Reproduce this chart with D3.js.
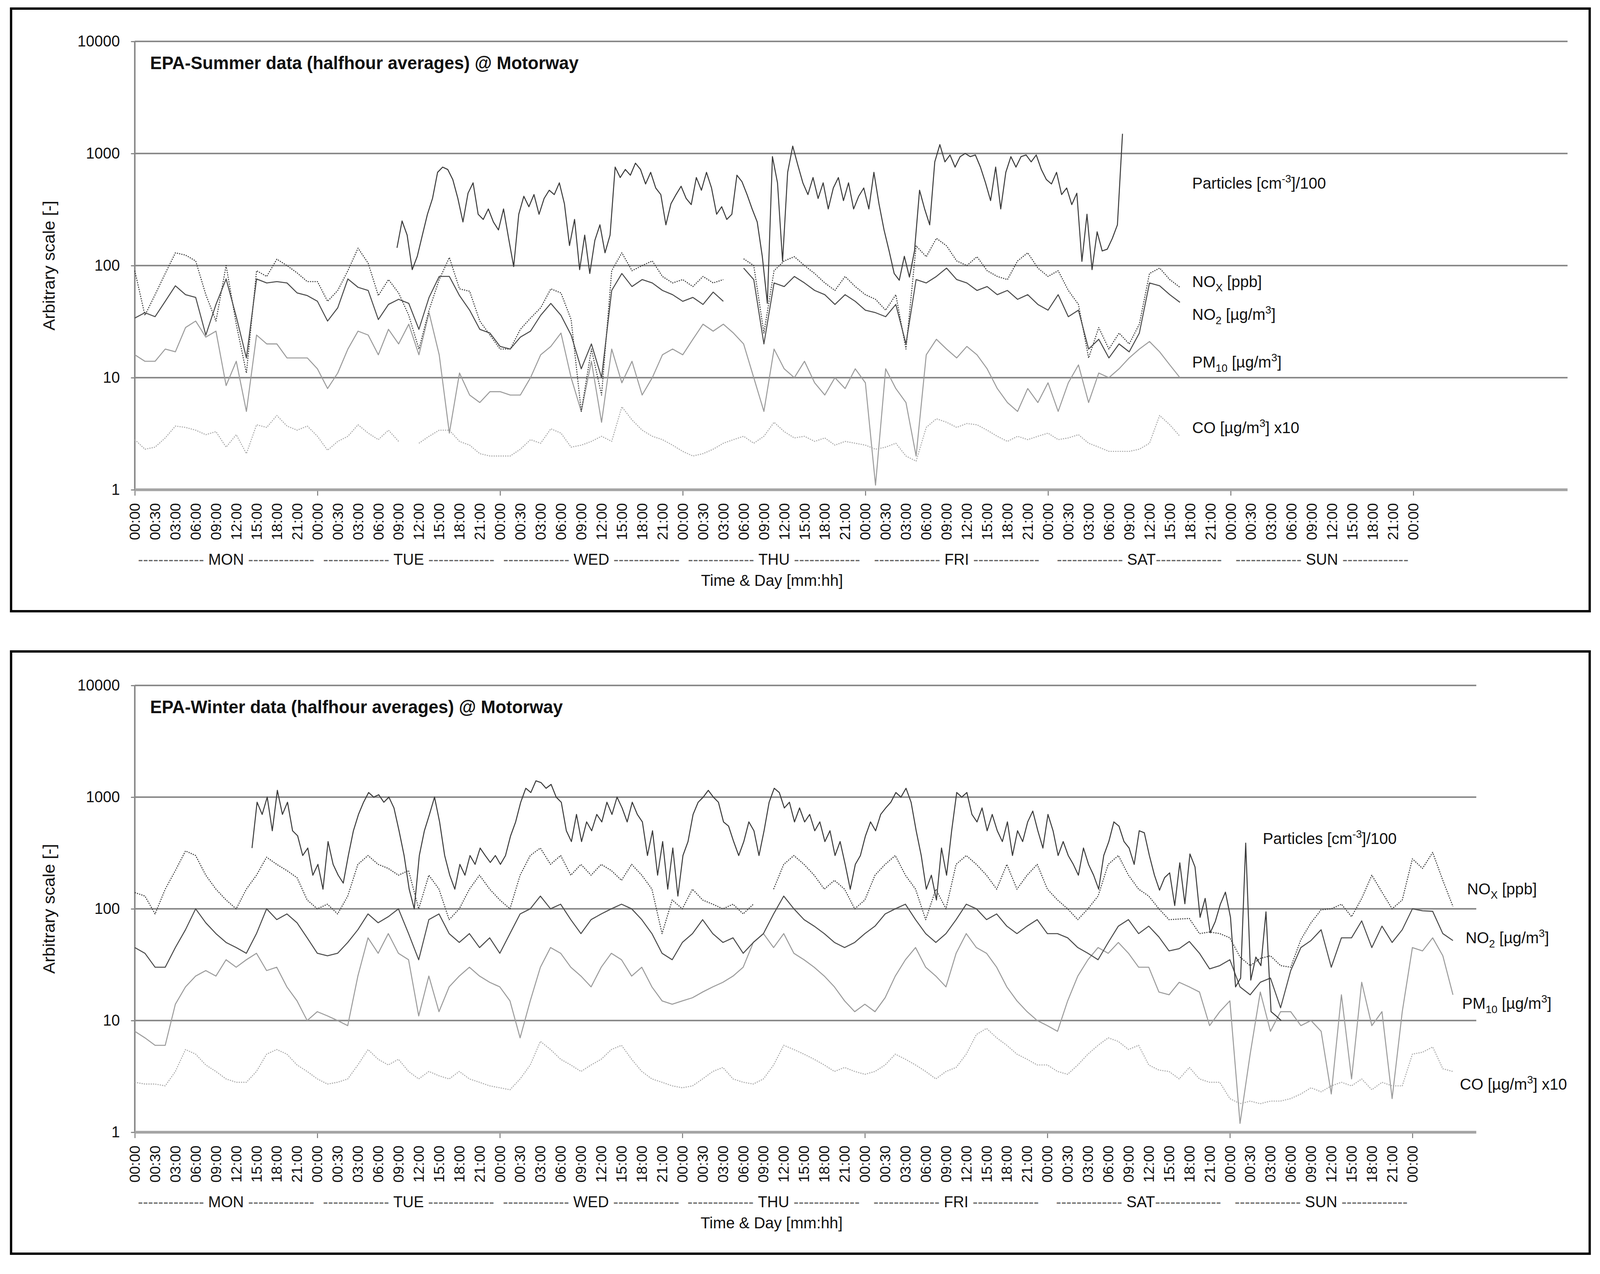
<!DOCTYPE html>
<html>
<head>
<meta charset="utf-8">
<script src="https://cdn.jsdelivr.net/npm/d3@7"></script>
<style>
html, body { margin:0; padding:0; background:#fff; width:100%; height:100%; overflow:hidden; }
#chart { display:block; width:100vw; height:100vh; }
svg text { font-family:"Liberation Sans", Arial, sans-serif; fill:#111; }
</style>
</head>
<body>
<svg id="chart" viewBox="0 0 4190 3262" preserveAspectRatio="none"></svg>
<script>
// x positions are in axis "slots": one slot = one time label on the category axis
var hourLabels = ["00:00","00:30","03:00","06:00","09:00","12:00","15:00","18:00","21:00"];
var dayNames = ["MON","TUE","WED","THU","FRI","SAT","SUN"];
var yTicks = [1, 10, 100, 1000, 10000];
var sumAxisSlots = 70.6, winAxisSlots = 66.15;
var halfStep = 0.5, quarterStep = 0.25;
var sumParticlesStart = 12.92, winParticlesStart = 5.78;

// summer, half-slot steps from MON 00:00
var sumNOx = [90,36,55,85,130,124,110,55,32,100,30,11,90,80,114,100,86,72,72,48,60,90,143,105,54,75,57,36,18,40,75,118,62,59,32,24,18,18,27,34,42,62,57,33,
  5,18,7,90,130,90,100,110,80,70,75,65,80,70,75,null,115,100,25,90,110,120,100,85,70,60,80,65,55,50,40,55,18,150,120,175,150,110,100,120,90,80,75,110,130,95,80,90,60,45,15,28,18,25,20,30,85,95,75,64];
var sumNO2 = [34,38,35,48,66,55,52,24,45,76,35,15,76,70,72,70,57,54,48,32,42,76,64,60,33,45,50,46,27,52,80,80,54,40,27,25,19,18,23,26,36,46,36,24,
  12,20,10,60,85,65,75,70,60,55,48,52,45,58,48,null,95,75,20,70,65,80,70,60,55,45,55,48,40,38,35,45,20,75,70,80,95,75,70,60,65,55,60,50,55,45,40,55,35,40,18,22,15,20,17,25,70,66,55,47];
var sumPM10 = [16,14,14,18,17,28,32,23,26,8.5,14,5,24,20,20,15,15,15,12,8,11,18,26,24,16,27,20,30,16,38,16,3.2,11,7,6,7.5,7.5,7,7,10,16,19,25,10,
  5,14,4,18,9,14,7,10,16,18,16,22,30,26,30,25,20,10,5,18,12,10,14,9,7,10,8,12,9,1.1,12,8,6,2,16,22,18,15,19,16,12,8,6,5,8,6,9,5,9,13,6,11,10,12,15,18,21,17,13,10];
var sumCO = [2.8,2.3,2.4,2.9,3.7,3.6,3.4,3.1,3.3,2.4,3.1,2.1,3.8,3.6,4.6,3.7,3.4,3.7,3.0,2.25,2.7,3.0,3.8,3.2,2.8,3.4,2.7,null,2.6,3.0,3.4,3.4,2.7,2.5,2.1,2.0,2.0,2.0,2.3,2.8,2.6,3.5,3.2,2.4,
  2.5,2.7,3.0,2.7,5.5,4.2,3.4,3.0,2.8,2.5,2.2,2.0,2.1,2.3,2.6,2.8,3.0,2.6,3.0,4.0,3.3,2.9,3.0,2.7,2.9,2.5,2.7,2.6,2.5,2.3,2.4,2.6,2.0,1.8,3.6,4.3,4.0,3.6,3.9,3.8,3.4,3.0,2.7,3.0,2.8,3.0,3.2,2.8,2.9,3.1,2.6,2.4,2.2,2.2,2.2,2.3,2.6,4.6,3.8,3.0];
// summer particles, quarter-slot steps from TUE 09:00
var sumParticles = [144,250,187,92,121,187,287,397,679,756,720,585,397,245,442,547,287,258,320,245,
  208,320,175,98,287,415,335,430,287,397,470,430,547,356,151,258,92,187,85,168,
  231,130,187,756,610,720,640,820,720,535,679,492,430,231,356,430,510,397,350,610,
  470,679,492,287,335,258,287,640,560,430,320,245,121,46,937,547,109,679,1163,790,
  547,430,610,397,547,320,492,610,380,547,320,415,492,320,679,356,208,135,85,74,
  121,79,135,470,320,231,842,1200,842,970,756,937,1000,937,970,756,547,380,756,320,
  679,937,756,937,970,842,970,720,585,535,679,430,492,350,442,109,287,92,200,135,
  140,175,231,1500];

// winter, half-slot steps from MON 00:00
var winNOx = [140,130,90,150,220,330,300,200,150,120,100,150,200,290,250,220,190,120,100,110,
  90,130,250,300,250,230,200,220,100,200,150,80,100,150,200,150,120,100,200,300,
  350,250,300,200,250,200,250,220,180,250,200,150,60,120,100,150,120,110,100,110,
  90,110,null,150,250,300,250,200,150,180,150,100,120,200,250,300,200,150,80,150,
  100,250,300,250,200,150,250,150,200,250,150,120,100,80,100,130,250,300,200,150,
  130,100,80,81,82,60,62,60,55,37,31,36,38,31,30,53,75,98,100,110,
  85,124,200,141,100,120,280,230,320,180,105];
var winNO2 = [45,40,30,30,45,65,100,75,60,50,45,40,60,100,80,90,75,55,40,38,
  40,50,65,90,75,85,100,60,35,80,90,60,50,60,45,55,40,60,90,100,
  130,100,110,80,60,80,90,100,110,100,80,60,40,35,50,60,80,60,50,55,
  40,50,60,90,130,100,80,70,60,50,45,50,60,70,90,100,110,80,60,50,
  60,80,110,100,80,90,70,60,70,80,60,60,55,45,40,35,50,70,80,60,
  70,56,42,44,51,40,29,31,35,20,17,22,24,13,28,45,52,65,30,55,
  55,78,45,70,50,65,100,96,95,60,52];
var winPM10 = [8,7,6,6,14,20,25,28,25,35,30,35,40,28,30,20,15,10,12,11,
  10,9,25,55,40,60,40,35,11,25,12,20,25,30,25,22,20,15,7,15,
  30,45,40,30,25,20,30,40,35,25,30,20,15,14,15,16,18,20,22,25,
  30,50,60,45,60,40,35,30,25,20,15,12,14,12,16,25,35,45,30,25,
  20,40,60,45,40,30,20,15,12,10,9,8,15,25,35,45,40,50,40,30,
  30,18,17,22,20,18,9,12,15,1.2,5,18,8,12,12,9,10,8,2.2,17,
  3,22,9,12,2.0,12,45,42,55,38,17];
var winCO = [2.8,2.7,2.7,2.6,3.5,5.5,5.0,4.0,3.5,3.0,2.8,2.8,3.5,5.0,5.5,5.0,4.0,3.5,3.0,2.7,
  2.8,3.0,4.0,5.5,4.5,4.0,4.5,3.5,3.0,3.5,3.2,3.0,3.5,3.0,2.8,2.6,2.5,2.4,3.0,4.0,
  6.5,5.5,4.5,4.0,3.5,4.0,4.5,5.5,6.0,4.5,3.5,3.0,2.8,2.6,2.5,2.6,3.0,3.5,3.8,3.0,
  2.8,2.7,3.0,4.0,6.0,5.5,5.0,4.5,4.0,3.5,3.8,3.5,3.3,3.5,4.0,5.0,4.5,4.0,3.5,3.0,
  3.5,3.8,5.0,7.5,8.5,7.0,6.0,5.0,4.5,4.0,4.0,3.5,3.3,4.0,5.0,6.0,7.0,6.5,5.5,6.0,
  4.0,3.6,3.5,3.0,3.8,3.0,2.8,2.8,2.0,1.8,1.9,1.8,1.9,1.9,2.0,2.2,2.5,2.3,2.6,2.8,
  2.6,3.0,2.4,2.8,2.6,2.6,5.0,5.2,5.8,3.7,3.5];
// winter particles, quarter-slot steps from MON ~13:00
var winParticles = [350,900,700,1000,500,1150,700,900,500,450,300,350,200,250,150,400,250,200,170,300,
  500,700,900,1100,1000,1050,900,1000,800,500,300,150,100,300,500,700,1000,600,300,200,
  150,250,200,300,250,350,300,260,300,250,300,450,600,900,1200,1100,1400,1350,1200,1300,
  1000,900,500,400,700,400,600,500,700,600,900,700,1000,800,600,900,700,600,300,500,
  200,400,150,350,130,300,400,700,900,1000,1150,1000,900,600,550,400,300,400,600,500,
  300,500,900,1200,1100,800,900,600,800,600,700,500,600,400,500,300,400,250,150,250,
  300,450,600,500,700,800,900,1100,1000,1200,900,500,300,150,200,120,350,200,500,1100,
  1000,1100,700,600,800,500,700,500,400,600,300,500,400,600,750,500,350,700,500,300,
  400,300,250,200,350,250,200,150,300,400,600,550,400,350,250,
  500,480,300,200,147,190,210,107,258,111,310,237,84,124,61,77,110,141,84,20,24,387,23,37,31,94,12,11,10];

var timeLabels = dayNames.flatMap(function () { return hourLabels; }).concat(["00:00"]);

var styles = {
  particles: { color:"#3a3a3a", dash:null },
  nox: { color:"#3a3a3a", dash:"3,3" },
  no2: { color:"#4a4a4a", dash:null },
  pm10: { color:"#9a9a9a", dash:null },
  co: { color:"#a8a8a8", dash:"3,3" }
};

var seriesLabels = {
  particles: [["Particles [cm",""],["-3","sup"],["]/100",""]],
  nox: [["NO",""],["X","sub"],[" [ppb]",""]],
  no2: [["NO",""],["2","sub"],[" [\u00b5g/m",""],["3","sup"],["]",""]],
  pm10: [["PM",""],["10","sub"],[" [\u00b5g/m",""],["3","sup"],["]",""]],
  co: [["CO [\u00b5g/m",""],["3","sup"],["] x10",""]]
};

var panels = [
  { title:"EPA-Summer data (halfhour averages) @ Motorway", boxTop:22, boxBottom:1565,
    top:106, bottom:1254, right:4105, slots:sumAxisSlots,
    series:[
      { key:"co", start:0, step:halfStep, values:sumCO },
      { key:"pm10", start:0, step:halfStep, values:sumPM10 },
      { key:"nox", start:0, step:halfStep, values:sumNOx },
      { key:"no2", start:0, step:halfStep, values:sumNO2 },
      { key:"particles", start:sumParticlesStart, step:quarterStep, values:sumParticles }
    ],
    labelPos:{ particles:[3122,483], nox:[3122,735], no2:[3122,819], pm10:[3122,941], co:[3122,1109] } },
  { title:"EPA-Winter data (halfhour averages) @ Motorway", boxTop:1668, boxBottom:3210,
    top:1755, bottom:2899, right:3866, slots:winAxisSlots,
    series:[
      { key:"co", start:0, step:halfStep, values:winCO },
      { key:"pm10", start:0, step:halfStep, values:winPM10 },
      { key:"nox", start:0, step:halfStep, values:winNOx },
      { key:"no2", start:0, step:halfStep, values:winNO2 },
      { key:"particles", start:winParticlesStart, step:quarterStep, values:winParticles }
    ],
    labelPos:{ particles:[3307,2161], nox:[3842,2290], no2:[3838,2415], pm10:[3829,2583], co:[3823,2790] } }
];

var svg = d3.select("#chart");
var left = 353, boxLeft = 29, boxRight = 4163;

function richText(g, x, y, parts, size) {
  var t = g.append("text").attr("x", x).attr("y", y).attr("font-size", size);
  var shift = 0;
  parts.forEach(function (p) {
    var target = p[1] === "sub" ? size * 0.28 : p[1] === "sup" ? -size * 0.38 : 0;
    t.append("tspan").attr("dy", target - shift)
      .attr("font-size", p[1] ? size * 0.68 : size).text(p[0]);
    shift = target;
  });
}

panels.forEach(function (p) {
  var g = svg.append("g");
  var x = d3.scaleLinear().domain([0, p.slots]).range([left, p.right]);
  var y = d3.scaleLog().domain([1, 10000]).range([p.bottom, p.top]);

  g.append("rect").attr("x", boxLeft).attr("y", p.boxTop)
    .attr("width", boxRight - boxLeft).attr("height", p.boxBottom - p.boxTop)
    .attr("fill", "none").attr("stroke", "#000").attr("stroke-width", 6);

  // gridlines
  g.selectAll("line.grid").data(yTicks.slice(1)).join("line")
    .attr("x1", left).attr("x2", p.right)
    .attr("y1", function (d) { return y(d); }).attr("y2", function (d) { return y(d); })
    .attr("stroke", "#8a8a8a").attr("stroke-width", 4);

  var yAxis = g.append("g").attr("transform", "translate(" + left + ",0)")
    .call(d3.axisLeft(y).tickValues(yTicks).tickFormat(d3.format("d")).tickSize(10).tickPadding(29));
  yAxis.select(".domain").remove();
  yAxis.selectAll("line").attr("stroke", "#888").attr("stroke-width", 3);
  yAxis.selectAll("text").attr("font-size", 40).attr("font-family", "Liberation Sans, Arial, sans-serif").attr("fill", "#111");

  var dayTicks = d3.range(0, timeLabels.length, hourLabels.length);
  var xAxis = g.append("g").attr("transform", "translate(0," + p.bottom + ")")
    .call(d3.axisBottom(x).tickValues(dayTicks).tickFormat("").tickSize(15));
  xAxis.select(".domain").remove();
  xAxis.selectAll("line").attr("stroke", "#777").attr("stroke-width", 2.5);

  g.append("line").attr("x1", left).attr("x2", left).attr("y1", p.top).attr("y2", p.bottom)
    .attr("stroke", "#888").attr("stroke-width", 4);
  g.append("line").attr("x1", left).attr("x2", p.right).attr("y1", p.bottom).attr("y2", p.bottom)
    .attr("stroke", "#a4a4a4").attr("stroke-width", 7);

  g.selectAll("text.hr").data(timeLabels).join("text").attr("class", "hr")
    .attr("transform", function (d, i) { return "translate(" + x(i) + "," + (p.bottom + 34) + ") rotate(-90)"; })
    .attr("text-anchor", "end").attr("dy", "0.35em").attr("font-size", 38).attr("fill", "#222")
    .text(function (d) { return d; });

  var dash = "-------------";
  var days = g.selectAll("text.day").data(dayNames).join("text").attr("class", "day")
    .attr("x", function (d, i) { return x(i * hourLabels.length + hourLabels.length / 2); })
    .attr("y", p.bottom + 192).attr("text-anchor", "middle").attr("font-size", 40);
  days.append("tspan").attr("fill", "#666").text(dash + " ");
  days.append("tspan").text(function (d) { return d; });
  days.append("tspan").attr("fill", "#666").text(function (d) { return (d === "SAT" ? "" : " ") + dash; });

  g.append("text").attr("x", x(31.4)).attr("y", p.bottom + 246).attr("text-anchor", "middle")
    .attr("font-size", 41).text("Time & Day [mm:hh]");

  g.append("text").attr("transform", "translate(128," + (p.top + p.bottom) / 2 + ") rotate(-90)")
    .attr("text-anchor", "middle").attr("dy", "0.35em").attr("font-size", 44).text("Arbitrary scale [-]");

  g.append("text").attr("x", 393).attr("y", p.top + 71).attr("font-size", 46)
    .attr("font-weight", "bold").text(p.title);

  var line = d3.line()
    .defined(function (d) { return d.v != null; })
    .x(function (d) { return x(d.t); })
    .y(function (d) { return y(d.v); });

  p.series.forEach(function (s) {
    var pts = s.values.map(function (v, i) { return { t: s.start + i * s.step, v: v }; });
    var st = styles[s.key];
    g.append("path").datum(pts).attr("d", line)
      .attr("fill", "none").attr("stroke", st.color).attr("stroke-width", 2.6)
      .attr("stroke-linejoin", "round")
      .attr("stroke-dasharray", st.dash);
    richText(g, p.labelPos[s.key][0], p.labelPos[s.key][1], seriesLabels[s.key], 41);
  });
});
</script>
</body>
</html>
